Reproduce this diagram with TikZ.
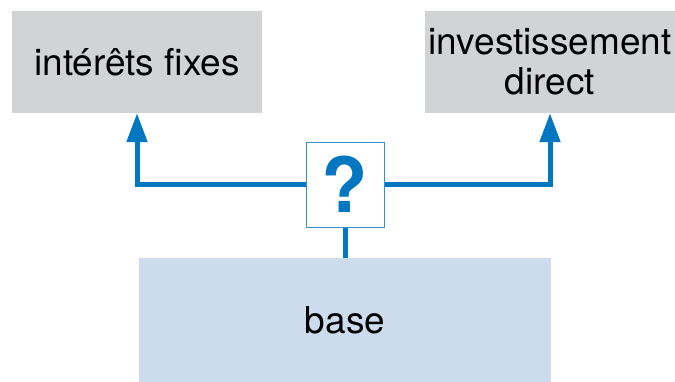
\documentclass[tikz,border=0pt]{standalone}
\usepackage{fontspec}
\setmainfont{TeX Gyre Heros}
\usetikzlibrary{arrows.meta}
\definecolor{boxgray}{HTML}{D2D3D5}
\definecolor{baseblue}{HTML}{CCDBEE}
\definecolor{linkblue}{HTML}{0077C0}
\begin{document}
\begin{tikzpicture}[x=1pt, y=-1pt,
    	 every node/.style={inner sep=0pt, font=\fontsize{37}{40}\selectfont},
    	 link/.style={draw=linkblue, line width=5pt}]
    	 
    	 % style of the boxes
    	 \tikzstyle{choice}=[fill=boxgray, minimum width=250pt, minimum height=102pt, align=center]
    	 
    	 \useasboundingbox (0,0) rectangle (675,381);
    	 
			\node [choice] (fixes) at (137,62) {intérêts fixes};
			\node [choice] (invest) at (550,62) {investissement\\direct};
			\node [fill=baseblue, minimum width=412pt, minimum height=124pt] (base) at (345,320) {base};
			\node [draw=linkblue!80, line width=1pt, fill=white, minimum width=78pt, minimum height=85pt,
			       text=linkblue, font=\fontsize{76}{80}\selectfont\bfseries] (quest) at (345,184.5) {?};
			
			\draw [link] (quest.south) -- (base.north);
			\draw [link, -{Triangle[width=20pt, length=29pt]}] (quest.west) -| (fixes.south);
			\draw [link, -{Triangle[width=20pt, length=29pt]}] (quest.east) -| (invest.south);
    		
\end{tikzpicture}
\end{document}
